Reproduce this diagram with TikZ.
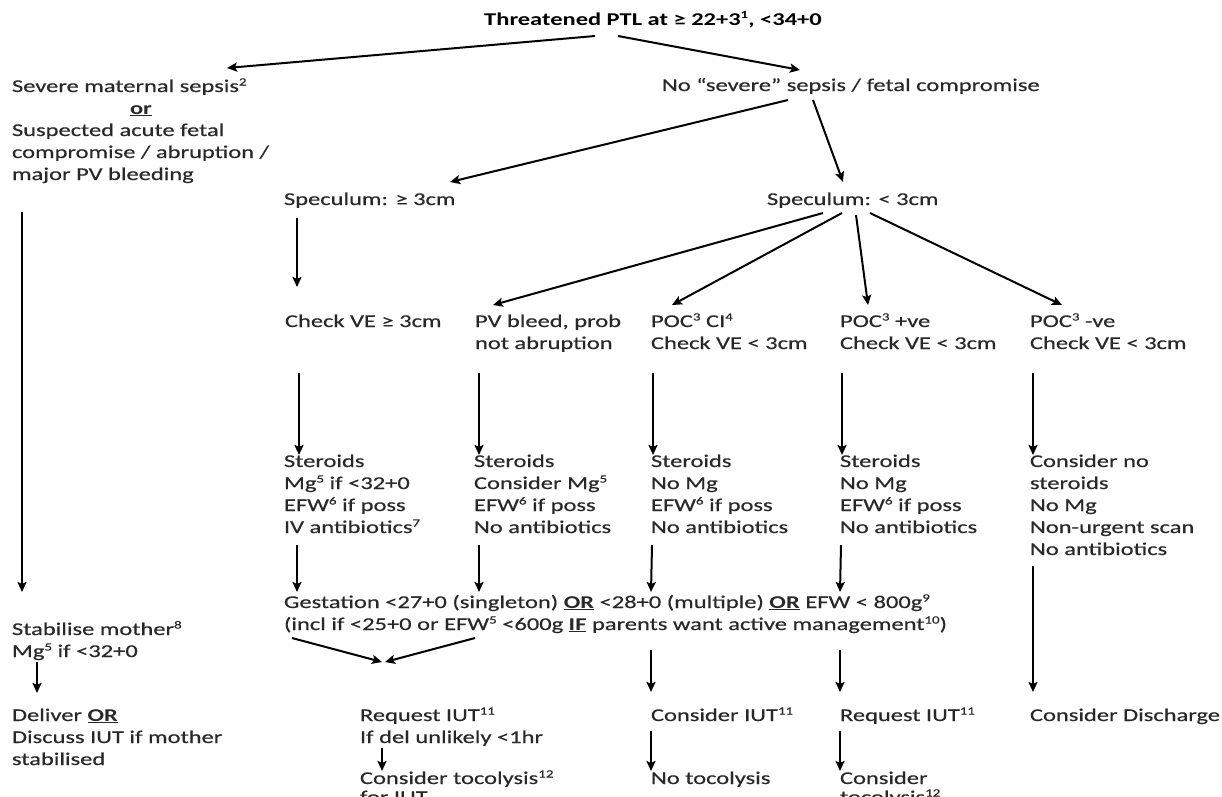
\documentclass[tikz,border=0pt]{standalone}
\usepackage{fontspec}
\setmainfont{Carlito}[FakeStretch=1.36, UprightFeatures={FakeBold=0.4}]
\usetikzlibrary{arrows.meta}
\definecolor{txt}{RGB}{40,40,40}
% small raised footnote numbers
\newcommand{\fnum}[1]{\raisebox{6.5pt}{\fontsize{11}{11}\selectfont #1}}
\begin{document}
\begin{tikzpicture}[x=1pt,y=-1pt,
  % multi-line labels are placed by the baseline of their last line
  lbl/.style={inner sep=0pt, outer sep=0pt, anchor=base west, align=left,
              text=txt, font=\fontsize{18}{22}\selectfont},
  arr/.style={draw=black, line width=2pt,
              -{Stealth[length=10pt,width=9pt,inset=2pt]}}]
\useasboundingbox (0,0) rectangle (1222,796);

% ---- text blocks ----
\node[lbl, anchor=base, text=black, font=\bfseries\fontsize{18}{22}\selectfont]
  (title) at (653,25) {Threatened PTL at ≥ 22+3\fnum{1}, <34+0};

\node[lbl] (sev) at (12,180) {Severe maternal sepsis\fnum{2}\\
  \hspace*{118pt}\underline{\textbf{or}}\\
  Suspected acute fetal\\ compromise / abruption /\\ major PV bleeding};
\node[lbl] (nosep) at (662,91) {No “severe” sepsis / fetal compromise};

\node[lbl] (specA) at (284,205) {Speculum: ≥ 3cm};
\node[lbl] (specB) at (767,205) {Speculum: < 3cm};

\node[lbl] (chkA) at (285,327) {Check VE ≥ 3cm};
\node[lbl] (pvb)  at (475,349) {PV bleed, prob\\not abruption};
\node[lbl] (poc1) at (651,349) {POC\fnum{3} CI\fnum{4}\\Check VE < 3cm};
\node[lbl] (poc2) at (840,349) {POC\fnum{3} +ve\\Check VE < 3cm};
\node[lbl] (poc3) at (1030,349) {POC\fnum{3} -ve\\Check VE < 3cm};

\node[lbl] (stA) at (284,533) {Steroids\\Mg\fnum{5} if <32+0\\EFW\fnum{6} if poss\\IV antibiotics\fnum{7}};
\node[lbl] (stB) at (474,533) {Steroids\\Consider Mg\fnum{5}\\EFW\fnum{6} if poss\\No antibiotics};
\node[lbl] (stC) at (651,533) {Steroids\\No Mg\\EFW\fnum{6} if poss\\No antibiotics};
\node[lbl] (stD) at (840,533) {Steroids\\No Mg\\EFW\fnum{6} if poss\\No antibiotics};
\node[lbl] (stE) at (1030,555) {Consider no\\steroids\\No Mg\\Non-urgent scan\\No antibiotics};

\node[lbl] (gest) at (284,630) {Gestation <27+0 (singleton) \underline{\textbf{OR}} <28+0 (multiple) \underline{\textbf{OR}} EFW < 800g\fnum{9}\\
  (incl if <25+0 or EFW\fnum{5} <600g \underline{\textbf{IF}} parents want active management\fnum{10})};

\node[lbl] (stab)  at (12,657) {Stabilise mother\fnum{8}\\Mg\fnum{5} if <32+0};
\node[lbl] (deliv) at (12,765) {Deliver \underline{\textbf{OR}}\\Discuss IUT if mother\\stabilised};

\node[lbl] (req1)  at (360,743) {Request IUT\fnum{11}\\If del unlikely <1hr};
\node[lbl, font=\fontsize{18}{19}\selectfont] (toc1) at (360,803) {Consider tocolysis\fnum{12}\\for IUT};
\node[lbl] (cons)  at (651,721) {Consider IUT\fnum{11}};
\node[lbl] (notoc) at (651,784) {No tocolysis};
\node[lbl] (req2)  at (840,721) {Request IUT\fnum{11}};
\node[lbl, font=\fontsize{18}{19}\selectfont] (toc2) at (840,803) {Consider\\tocolysis\fnum{12}};
\node[lbl] (disc)  at (1030,721) {Consider Discharge};

% ---- connectors ----
\draw[arr] ([shift={(-58,11)}]title.base) -- ([shift={(215,-112)}]sev.base west);
\draw[arr] ([shift={(-35,11)}]title.base) -- ([shift={(138,-21)}]nosep.base west);
\draw[arr] ([shift={(126,9)}]nosep.base west) -- ([shift={(166,-23)}]specA.base west);
\draw[arr] ([shift={(151,9)}]nosep.base west) -- ([shift={(76,-23)}]specB.base west);

\draw[arr] ([shift={(13,13)}]specA.base west) -- ([shift={(12,-40)}]chkA.base west);
\draw[arr] ([shift={(56,8)}]specB.base west)  -- ([shift={(18,-44)}]pvb.base west);
\draw[arr] ([shift={(75,8)}]specB.base west)  -- ([shift={(21,-44)}]poc1.base west);
\draw[arr] ([shift={(89,10)}]specB.base west) -- ([shift={(28,-44)}]poc2.base west);
\draw[arr] ([shift={(103,8)}]specB.base west) -- ([shift={(32,-44)}]poc3.base west);

\draw[arr] ([shift={(10,32)}]sev.base west) -- ([shift={(10,-65)}]stab.base west);

\draw[arr] ([shift={(14,46)}]chkA.base west) -- ([shift={(15,-78)}]stA.base west);
\draw[arr] ([shift={(4,24)}]pvb.base west)   -- ([shift={(5,-78)}]stB.base west);
\draw[arr] ([shift={(2,24)}]poc1.base west)  -- ([shift={(2,-78)}]stC.base west);
\draw[arr] ([shift={(2,24)}]poc2.base west)  -- ([shift={(2,-78)}]stD.base west);
\draw[arr] ([shift={(3,24)}]poc3.base west)  -- ([shift={(3,-100)}]stE.base west);

\draw[arr] ([shift={(13,12)}]stA.base west) -- ([shift={(13,-38)}]gest.base west);
\draw[arr] ([shift={(5,12)}]stB.base west)  -- ([shift={(195,-38)}]gest.base west);
\draw[arr] ([shift={(1,12)}]stC.base west)  -- ([shift={(367,-38)}]gest.base west);
\draw[arr] ([shift={(1,12)}]stD.base west)  -- ([shift={(556,-38)}]gest.base west);
\draw[arr] ([shift={(3,11)}]stE.base west)  -- ([shift={(3,-29)}]disc.base west);

\draw[arr] ([shift={(8,8)}]gest.base west)   -- ([shift={(22,-81)}]req1.base west);
\draw[arr] ([shift={(191,8)}]gest.base west) -- ([shift={(25,-81)}]req1.base west);
\draw[arr] ([shift={(367,20)}]gest.base west) -- ([shift={(0,-29)}]cons.base west);
\draw[arr] ([shift={(556,20)}]gest.base west) -- ([shift={(0,-29)}]req2.base west);

\draw[arr] ([shift={(25,5)}]stab.base west) -- ([shift={(25,-72)}]deliv.base west);
\draw[arr] ([shift={(22,5)}]req1.base west) -- ([shift={(22,-32)}]toc1.base west);
\draw[arr] ([shift={(0,10)}]cons.base west)  -- ([shift={(0,-13)}]notoc.base west);
\draw[arr] ([shift={(0,10)}]req2.base west)  -- ([shift={(0,-32)}]toc2.base west);
\end{tikzpicture}
\end{document}
